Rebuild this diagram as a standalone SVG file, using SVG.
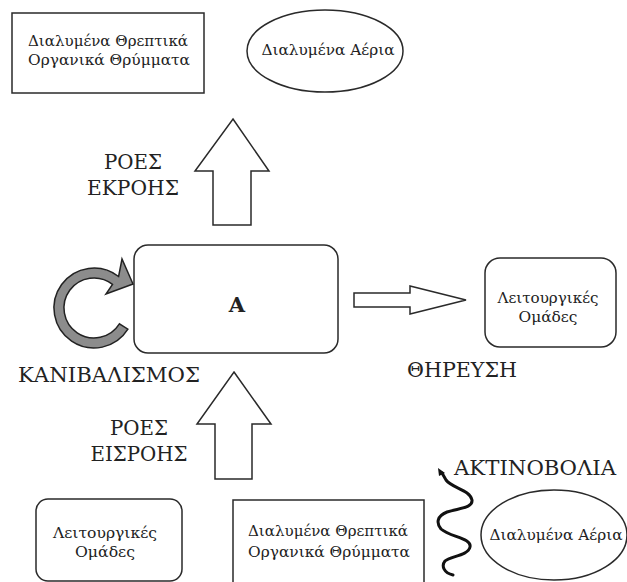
<svg xmlns="http://www.w3.org/2000/svg" width="627" height="582" viewBox="0 0 627 582">
<style>
.box{fill:#fff;stroke:#2a2a2a;stroke-width:1.5}
.arr{fill:#fff;stroke:#2a2a2a;stroke-width:1.5;stroke-linejoin:miter}
.t{font-family:"DejaVu Serif","Liberation Serif",serif;fill:#222;text-anchor:middle}
.s{font-size:15px}
.m{font-size:14px}
.l{font-size:20px}
</style>
<rect width="627" height="582" fill="#fff"/>
<g id="connectors">
<polygon class="arr" points="233,119 269,171 251,171 251,225 213,225 213,171 195,171"/>
<polygon class="arr" points="234,372 271,424 252,424 252,479 215,479 215,424 197,424"/>
<polygon class="arr" points="354,293 410,293 410,286 466,300 410,314 410,307 354,307"/>
<path d="M118.6,276.5 A40,40 0 1 0 127.9,329.2 L119.4,323.9 A30,30 0 1 1 112.5,284.4 L106,294 L133,284 L122,259 Z" fill="#8c8c8c" stroke="#222" stroke-width="1.5" stroke-linejoin="miter"/>
<path d="M453,575 C444,573 441,566 445,561 C450,556 468,556 470,547 C472,538 450,537 441,529 C436,523 437,516 447,512 C460,508 473,508 472,500 C470,490 452,488 446,480 L442,473" fill="none" stroke="#111" stroke-width="3" stroke-linecap="round"/>
<polygon points="438,468 445,473 439,476" fill="#111"/>
</g>
<g id="label-ekroh">
<text class="t l" x="133" y="169" textLength="58" lengthAdjust="spacingAndGlyphs">ΡΟΕΣ</text>
<text class="t l" x="133" y="195" textLength="92" lengthAdjust="spacingAndGlyphs">ΕΚΡΟΗΣ</text>
</g>
<g id="label-eisroh">
<text class="t l" x="139" y="435" textLength="58" lengthAdjust="spacingAndGlyphs">ΡΟΕΣ</text>
<text class="t l" x="139" y="461" textLength="97" lengthAdjust="spacingAndGlyphs">ΕΙΣΡΟΗΣ</text>
</g>
<g id="label-kanibalismos">
<text class="t l" x="109" y="382" textLength="182" lengthAdjust="spacingAndGlyphs">ΚΑΝΙΒΑΛΙΣΜΟΣ</text>
</g>
<g id="label-threusi">
<text class="t l" x="462" y="377" textLength="110" lengthAdjust="spacingAndGlyphs">ΘΗΡΕΥΣΗ</text>
</g>
<g id="label-aktinobolia">
<text class="t l" x="535" y="475" textLength="162" lengthAdjust="spacingAndGlyphs">ΑΚΤΙΝΟΒΟΛΙΑ</text>
</g>
<g id="node-top-nutrients">
<rect class="box" x="12" y="13" width="192" height="80"/>
<text class="t s" x="108" y="46" textLength="160" lengthAdjust="spacingAndGlyphs">Διαλυμένα Θρεπτικά</text>
<text class="t s" x="109" y="65" textLength="162" lengthAdjust="spacingAndGlyphs">Οργανικά Θρύμματα</text>
</g>
<g id="node-top-gases">
<ellipse class="box" cx="325" cy="51" rx="78" ry="41"/>
<text class="t s" x="328" y="55" textLength="133" lengthAdjust="spacingAndGlyphs">Διαλυμένα Αέρια</text>
</g>
<g id="node-A">
<rect class="box" x="134" y="245" width="204" height="108" rx="14"/>
<text class="t" x="237" y="312" font-size="21" font-weight="bold" font-family="Liberation Serif, serif">A</text>
</g>
<g id="node-right-groups">
<rect class="box" x="485" y="258" width="131" height="89" rx="15"/>
<text class="t m" x="548" y="303" textLength="101" lengthAdjust="spacingAndGlyphs">Λειτουργικές</text>
<text class="t m" x="548" y="322" textLength="59" lengthAdjust="spacingAndGlyphs">Ομάδες</text>
</g>
<g id="node-bottom-groups">
<rect class="box" x="36" y="499" width="146" height="82" rx="12"/>
<text class="t m" x="105" y="538" textLength="104" lengthAdjust="spacingAndGlyphs">Λειτουργικές</text>
<text class="t m" x="105" y="557" textLength="60" lengthAdjust="spacingAndGlyphs">Ομάδες</text>
</g>
<g id="node-bottom-nutrients">
<rect class="box" x="233" y="500" width="191" height="90"/>
<text class="t s" x="328" y="536" textLength="160" lengthAdjust="spacingAndGlyphs">Διαλυμένα Θρεπτικά</text>
<text class="t s" x="329" y="557" textLength="162" lengthAdjust="spacingAndGlyphs">Οργανικά Θρύμματα</text>
</g>
<g id="node-bottom-gases">
<ellipse class="box" cx="554" cy="535" rx="73" ry="45"/>
<text class="t s" x="556" y="540" textLength="133" lengthAdjust="spacingAndGlyphs">Διαλυμένα Αέρια</text>
</g>
</svg>
